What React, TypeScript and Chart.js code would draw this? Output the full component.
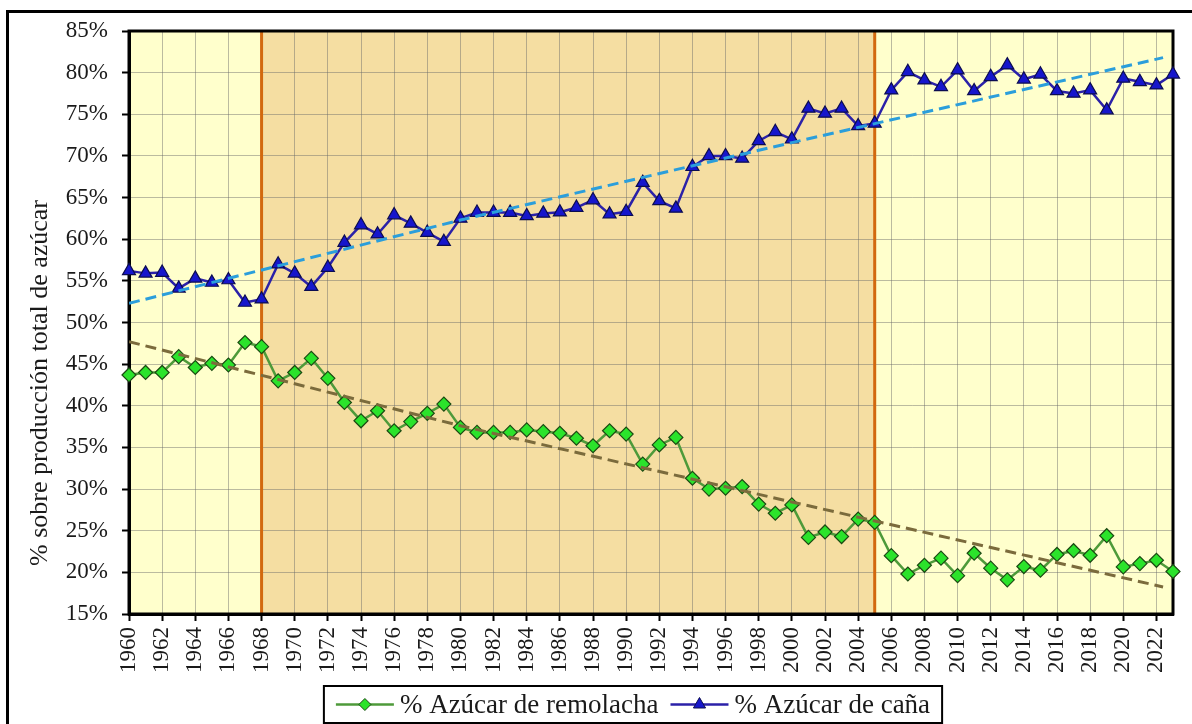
import React, { useEffect, useRef } from 'react';
import { Chart, registerables } from 'chart.js';

Chart.register(...registerables);

const FONT = '"Liberation Serif", "Times New Roman", Times, serif';

const years = [
  1960, 1961, 1962, 1963, 1964, 1965, 1966, 1967, 1968, 1969,
  1970, 1971, 1972, 1973, 1974, 1975, 1976, 1977, 1978, 1979,
  1980, 1981, 1982, 1983, 1984, 1985, 1986, 1987, 1988, 1989,
  1990, 1991, 1992, 1993, 1994, 1995, 1996, 1997, 1998, 1999,
  2000, 2001, 2002, 2003, 2004, 2005, 2006, 2007, 2008, 2009,
  2010, 2011, 2012, 2013, 2014, 2015, 2016, 2017, 2018, 2019,
  2020, 2021, 2022, 2023,
];

const tickYears = [
  1960, 1962, 1964, 1966, 1968, 1970, 1972, 1974, 1976, 1978,
  1980, 1982, 1984, 1986, 1988, 1990, 1992, 1994, 1996, 1998,
  2000, 2002, 2004, 2006, 2008, 2010, 2012, 2014, 2016, 2018,
  2020, 2022,
];

const beetShare = [
  43.7, 44.0, 44.0, 45.9, 44.6, 45.1, 44.9, 47.6, 47.1, 43.0,
  44.0, 45.7, 43.3, 40.4, 38.2, 39.4, 37.0, 38.1, 39.1, 40.2,
  37.4, 36.8, 36.8, 36.8, 37.1, 36.9, 36.7, 36.1, 35.2, 37.0,
  36.6, 33.0, 35.3, 36.2, 31.3, 30.0, 30.1, 30.3, 28.2, 27.1,
  28.1, 24.2, 24.85, 24.3, 26.4, 26.0, 22.0, 19.8, 20.85, 21.7,
  19.6, 22.3, 20.5, 19.1, 20.7, 20.25, 22.15, 22.6, 22.05, 24.4,
  20.65, 21.05, 21.45, 20.1,
];

const caneShare = [
  56.2, 55.9, 56.0, 54.1, 55.3, 54.8, 55.1, 52.4, 52.8, 57.0,
  55.9, 54.3, 56.6, 59.6, 61.7, 60.6, 62.9, 61.9, 60.8, 59.7,
  62.5, 63.2, 63.2, 63.2, 62.8, 63.1, 63.25, 63.8, 64.7, 63.0,
  63.3, 66.8, 64.6, 63.7, 68.7, 70.0, 70.0, 69.7, 71.8, 72.9,
  72.0, 75.7, 75.1, 75.7, 73.6, 73.9, 77.9, 80.1, 79.1, 78.3,
  80.3, 77.8, 79.5, 80.9, 79.2, 79.8, 77.8, 77.5, 77.9, 75.5,
  79.3, 78.9, 78.5, 79.8,
];

const trendYears = [1960, 1980, 2000, 2022.4];
const beetTrend = [47.7, 37.6, 28.45, 18.25];
const caneTrend = [52.3, 62.3, 71.6, 81.8];

const phaseBreaks = [1968, 2005];

const legendLabels = ['% Azúcar de remolacha', '% Azúcar de caña'];
const yTitle = '% sobre producción total de azúcar';

const C = {
  lightBand: '#FFFFCC',
  tanBand: '#F5DEA2',
  grid: 'rgba(105,105,105,0.45)',
  orange: '#D2690F',
  beetLine: '#4E9A3A',
  beetFill: '#2BE32B',
  beetEdge: '#1B4A12',
  caneLine: '#2B21A8',
  caneFill: '#1616CC',
  caneEdge: '#0C0C50',
  caneTrend: '#2B9EDB',
  beetTrend: '#7B6B3C',
  text: '#1a1a1a',
};

const xy = (xs: number[], ys: number[]) => xs.map((x, i) => ({ x, y: ys[i] }));

const bandsPlugin = {
  id: 'bands',
  beforeDraw(chart: any) {
    const { ctx, chartArea, scales } = chart;
    const { left, right, top, bottom } = chartArea;
    const x = scales.x;
    ctx.save();
    ctx.fillStyle = C.lightBand;
    ctx.fillRect(left, top, right - left, bottom - top);
    const a = x.getPixelForValue(phaseBreaks[0]);
    const b = x.getPixelForValue(phaseBreaks[1]);
    ctx.fillStyle = C.tanBand;
    ctx.fillRect(a, top, b - a, bottom - top);
    ctx.restore();
  },
  beforeDatasetsDraw(chart: any) {
    const { ctx, chartArea, scales } = chart;
    const { left, right, top, bottom } = chartArea;
    ctx.save();
    ctx.strokeStyle = C.orange;
    ctx.lineWidth = 3;
    phaseBreaks.forEach((yr) => {
      const px = scales.x.getPixelForValue(yr);
      ctx.beginPath();
      ctx.moveTo(px, top);
      ctx.lineTo(px, bottom);
      ctx.stroke();
    });
    ctx.strokeStyle = '#000';
    ctx.lineWidth = 3;
    ctx.strokeRect(left, top, right - left, bottom - top);
    ctx.restore();
  },
  afterDraw(chart: any) {
    const { ctx, chartArea } = chart;
    ctx.save();
    // y axis title
    ctx.fillStyle = C.text;
    ctx.font = `26px ${FONT}`;
    ctx.textAlign = 'center';
    ctx.textBaseline = 'middle';
    ctx.translate(40, chartArea.bottom - 231);
    ctx.rotate(-Math.PI / 2);
    ctx.fillText(yTitle, 0, 0);
    ctx.restore();

    // legend
    ctx.save();
    ctx.font = `27px ${FONT}`;
    const w1 = ctx.measureText(legendLabels[0]).width;
    const w2 = ctx.measureText(legendLabels[1]).width;
    const lineW = 58, gapIcon = 6, gapItem = 12, pad = 12;
    const total = pad + lineW + gapIcon + w1 + gapItem + lineW + gapIcon + w2 + pad;
    const cx = (chartArea.left + chartArea.right) / 2 - 18;
    const boxL = cx - total / 2;
    const boxT = chartArea.bottom + 72;
    const boxH = 37;
    ctx.fillStyle = '#fff';
    ctx.fillRect(boxL, boxT, total, boxH);
    ctx.strokeStyle = '#000';
    ctx.lineWidth = 2;
    ctx.strokeRect(boxL, boxT, total, boxH);
    const midY = boxT + boxH / 2;

    let xPos = boxL + pad;
    // item 1: beet
    ctx.strokeStyle = C.beetLine;
    ctx.lineWidth = 2.5;
    ctx.beginPath();
    ctx.moveTo(xPos, midY);
    ctx.lineTo(xPos + lineW, midY);
    ctx.stroke();
    const mx1 = xPos + lineW / 2;
    ctx.beginPath();
    ctx.moveTo(mx1 - 6, midY);
    ctx.lineTo(mx1, midY - 6);
    ctx.lineTo(mx1 + 6, midY);
    ctx.lineTo(mx1, midY + 6);
    ctx.closePath();
    ctx.fillStyle = C.beetFill;
    ctx.fill();
    ctx.strokeStyle = C.beetEdge;
    ctx.lineWidth = 1;
    ctx.stroke();
    xPos += lineW + gapIcon;
    ctx.fillStyle = C.text;
    ctx.textAlign = 'left';
    ctx.textBaseline = 'middle';
    ctx.fillText(legendLabels[0], xPos, midY + 1);
    xPos += w1 + gapItem;

    // item 2: cane
    ctx.strokeStyle = C.caneLine;
    ctx.lineWidth = 2.5;
    ctx.beginPath();
    ctx.moveTo(xPos, midY);
    ctx.lineTo(xPos + lineW, midY);
    ctx.stroke();
    const mx2 = xPos + lineW / 2;
    const r = 7;
    ctx.beginPath();
    ctx.moveTo(mx2, midY - r);
    ctx.lineTo(mx2 + r * 0.866, midY + r / 2);
    ctx.lineTo(mx2 - r * 0.866, midY + r / 2);
    ctx.closePath();
    ctx.fillStyle = C.caneFill;
    ctx.fill();
    ctx.strokeStyle = C.caneEdge;
    ctx.lineWidth = 1;
    ctx.stroke();
    xPos += lineW + gapIcon;
    ctx.fillStyle = C.text;
    ctx.fillText(legendLabels[1], xPos, midY + 1);
    ctx.restore();
  },
};

export default function App() {
  const ref = useRef<HTMLCanvasElement | null>(null);

  useEffect(() => {
    if (!ref.current) return;
    const chart = new Chart(ref.current, {
      type: 'line',
      data: {
        datasets: [
          {
            label: 'Tendencia remolacha',
            data: xy(trendYears, beetTrend),
            borderColor: C.beetTrend,
            borderWidth: 3,
            borderDash: [11, 6],
            pointRadius: 0,
            fill: false,
            order: 0,
          },
          {
            label: 'Tendencia caña',
            data: xy(trendYears, caneTrend),
            borderColor: C.caneTrend,
            borderWidth: 3,
            borderDash: [11, 6],
            pointRadius: 0,
            fill: false,
            order: 0,
          },
          {
            label: legendLabels[0],
            data: xy(years, beetShare),
            borderColor: C.beetLine,
            borderWidth: 2.5,
            pointStyle: 'rectRot',
            pointRadius: 7,
            pointBackgroundColor: C.beetFill,
            pointBorderColor: C.beetEdge,
            pointBorderWidth: 1.2,
            fill: false,
            clip: false,
            order: 1,
          },
          {
            label: legendLabels[1],
            data: xy(years, caneShare),
            borderColor: C.caneLine,
            borderWidth: 2.5,
            pointStyle: 'triangle',
            pointRadius: 7.5,
            pointBackgroundColor: C.caneFill,
            pointBorderColor: C.caneEdge,
            pointBorderWidth: 1.2,
            fill: false,
            clip: false,
            order: 1,
          },
        ],
      },
      options: {
        animation: false,
        responsive: false,
        devicePixelRatio: 1,
        layout: { padding: { left: 9, right: 19, top: 31, bottom: 52 } },
        plugins: {
          legend: { display: false },
          tooltip: { enabled: false },
        },
        scales: {
          x: {
            type: 'linear',
            min: 1960,
            max: 2023,
            afterBuildTicks: (scale: any) => {
              scale.ticks = tickYears.map((v) => ({ value: v }));
            },
            afterFit: (scale: any) => {
              scale.height = 58;
            },
            grid: {
              color: C.grid,
              lineWidth: 1,
              tickColor: '#000',
              tickLength: 7,
              tickWidth: 2,
            },
            border: { display: true, color: '#000', width: 3 },
            ticks: {
              autoSkip: false,
              minRotation: 90,
              maxRotation: 90,
              padding: 6,
              color: C.text,
              font: { family: FONT, size: 23 },
              callback: (v: any) => String(v),
            },
          },
          y: {
            min: 15,
            max: 85,
            afterFit: (scale: any) => {
              scale.width = 120;
            },
            grid: {
              color: C.grid,
              lineWidth: 1,
              tickColor: '#000',
              tickLength: 7,
              tickWidth: 2,
            },
            border: { display: true, color: '#000', width: 3 },
            ticks: {
              stepSize: 5,
              padding: 14,
              color: C.text,
              font: { family: FONT, size: 23 },
              callback: (v: any) => `${v}%`,
            },
          },
        },
      },
      plugins: [bandsPlugin],
    } as any);
    return () => chart.destroy();
  }, []);

  return (
    <div style={{ position: 'fixed', left: 0, top: 0, width: 1192, height: 724, overflow: 'hidden', background: '#fff' }}>
      <div
        style={{
          position: 'absolute',
          left: 6,
          top: 10,
          width: 1200,
          height: 740,
          border: '3px solid #000',
          boxSizing: 'border-box',
        }}
      />
      <canvas ref={ref} width={1192} height={724} style={{ position: 'absolute', left: 0, top: 0, display: 'block' }} />
    </div>
  );
}
